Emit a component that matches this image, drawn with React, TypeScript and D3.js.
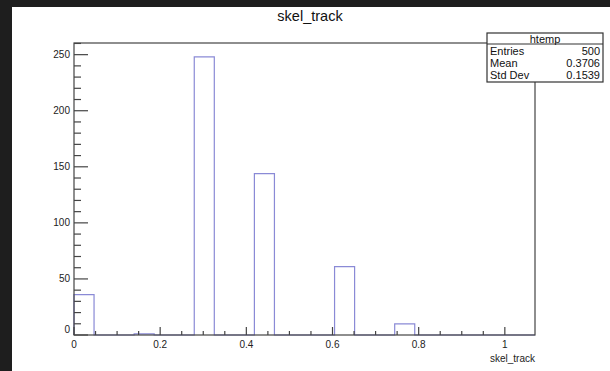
import React, { useRef, useEffect } from 'react';
import * as d3 from 'd3';

// histogram bins (23 bins over 0 .. 1.07), only non empty ones listed
const binLow = 0;
const binHigh = 1.07;
const nBins = 23;
const filledBins = [0, 3, 6, 9, 13, 16];
const binCounts = [36, 1, 248, 144, 61, 10];

const yTicks = [0, 50, 100, 150, 200, 250];
const xTicks = [0, 0.2, 0.4, 0.6, 0.8, 1];

const statLabels = ["Entries", "Mean", "Std Dev"];
const statValues = ["500", "0.3706", "0.1539"];

function App() {
  const ref = useRef<SVGSVGElement>(null);
  const width = 610;
  const height = 371;
  var margin = ({ top: 43, right: 75, bottom: 36, left: 74 })

  useEffect(() => {
    const svg = d3.select(ref.current);
    svg.selectAll("*").remove();

    const font = "'Liberation Sans', Arial, sans-serif";

    // dark border of the screenshot
    svg.append("rect").attr("width", width).attr("height", height).attr("fill", "#1e1e1e");
    svg.append("rect").attr("x", 12).attr("y", 7).attr("width", width - 12).attr("height", height - 7).attr("fill", "#fff");

    const counts = new Array(nBins).fill(0);
    filledBins.forEach((b, i) => counts[b] = binCounts[i]);
    const bw = (binHigh - binLow) / nBins;

    const x = d3.scaleLinear()
      .domain([binLow, binHigh])
      .range([margin.left, width - margin.right]);

    const ymax = d3.max(counts) * 1.05;
    const y = d3.scaleLinear()
      .domain([0, ymax])
      .range([height - margin.bottom, margin.top]);

    // histogram outline as steps
    const pts: [number, number][] = [];
    counts.forEach((c, i) => {
      pts.push([binLow + i * bw, c]);
      pts.push([binLow + (i + 1) * bw, c]);
    });
    const line = d3.line<[number, number]>().x(d => x(d[0])).y(d => y(d[1]));
    svg.append("path")
      .attr("d", line([[binLow, 0], ...pts, [binHigh, 0]]))
      .attr("fill", "none")
      .attr("stroke", "#8a8ad6")
      .attr("stroke-width", 1.2);

    // frame
    svg.append("rect")
      .attr("x", x(binLow)).attr("y", y(ymax))
      .attr("width", x(binHigh) - x(binLow)).attr("height", y(0) - y(ymax))
      .attr("fill", "none").attr("stroke", "#444").attr("stroke-width", 1.2);

    // y axis ticks
    const yg = svg.append("g").attr("stroke", "#444").attr("stroke-width", 1.2);
    d3.range(0, ymax, 10).forEach(v => {
      const major = v % 50 === 0;
      yg.append("line")
        .attr("x1", x(binLow)).attr("x2", x(binLow) + (major ? 14 : 7))
        .attr("y1", y(v)).attr("y2", y(v));
    });
    svg.append("g")
      .selectAll("text")
      .data(yTicks)
      .join("text")
      .attr("x", x(binLow) - 4)
      .attr("y", d => y(d) + (d === 0 ? -2 : 3.5))
      .attr("text-anchor", "end")
      .attr("font-family", font)
      .attr("font-size", 10)
      .attr("fill", "#222")
      .text(d => d);

    // x axis ticks
    const xg = svg.append("g").attr("stroke", "#444").attr("stroke-width", 1.2);
    d3.range(0, 21).map(i => i * 0.05).filter(v => v <= binHigh).forEach((v, i) => {
      const major = i % 4 === 0;
      xg.append("line")
        .attr("x1", x(v)).attr("x2", x(v))
        .attr("y1", y(0)).attr("y2", y(0) - (major ? 8 : 4));
    });
    svg.append("g")
      .selectAll("text")
      .data(xTicks)
      .join("text")
      .attr("x", d => x(d))
      .attr("y", y(0) + 13)
      .attr("text-anchor", "middle")
      .attr("font-family", font)
      .attr("font-size", 10)
      .attr("fill", "#222")
      .text(d => d3.format("")(d));

    // axis title
    svg.append("text")
      .attr("x", x(binHigh))
      .attr("y", y(0) + 27)
      .attr("text-anchor", "end")
      .attr("font-family", font)
      .attr("font-size", 10)
      .attr("fill", "#222")
      .text("skel_track");

    // title
    svg.append("text")
      .attr("x", 310)
      .attr("y", 21)
      .attr("text-anchor", "middle")
      .attr("font-family", font)
      .attr("font-size", 14.5)
      .attr("fill", "#111")
      .text("skel_track");

    // stats box
    const bx = 487, by = 33, bwid = 116, bh = 49;
    svg.append("rect")
      .attr("x", bx).attr("y", by).attr("width", bwid).attr("height", bh)
      .attr("fill", "#fff").attr("stroke", "#333").attr("stroke-width", 1.2);
    svg.append("line")
      .attr("x1", bx).attr("x2", bx + bwid).attr("y1", by + 11).attr("y2", by + 11)
      .attr("stroke", "#333").attr("stroke-width", 1.2);
    svg.append("text")
      .attr("x", bx + bwid / 2).attr("y", by + 9.5)
      .attr("text-anchor", "middle")
      .attr("font-family", font).attr("font-size", 11).attr("fill", "#111")
      .text("htemp");
    statLabels.forEach((s, i) => {
      svg.append("text")
        .attr("x", bx + 3).attr("y", by + 21.5 + i * 12)
        .attr("font-family", font).attr("font-size", 11).attr("fill", "#111")
        .text(s);
      svg.append("text")
        .attr("x", bx + bwid - 3).attr("y", by + 21.5 + i * 12)
        .attr("text-anchor", "end")
        .attr("font-family", font).attr("font-size", 11).attr("fill", "#111")
        .text(statValues[i]);
    });
  }, []);

  return (
    <svg ref={ref} width={width} height={height}
      style={{ position: "fixed", left: 0, top: 0, display: "block" }}>
    </svg>
  );
}

export default App;
